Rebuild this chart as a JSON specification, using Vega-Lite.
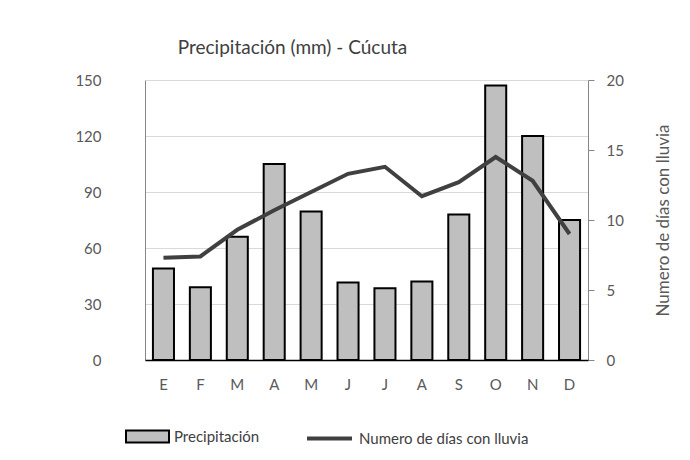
{
  "$schema": "https://vega.github.io/schema/vega-lite/v6.json",
  "width": 443,
  "height": 280,
  "autosize": "none",
  "padding": {"left": 145, "top": 80, "right": 102, "bottom": 100},
  "background": "white",
  "config": {
    "view": {"stroke": null},
    "font": "Lato",
    "axis": {"labelFont": "Lato", "titleFont": "Lato", "labelColor": "#595959", "titleColor": "#595959", "labelFontSize": 15, "titleFontSize": 17, "titleFontWeight": "normal"},
    "legend": {"labelFont": "Lato", "labelFontSize": 15, "labelColor": "#404040", "labelLimit": 0}
  },
  "title": {"text": "Precipitación (mm) - Cúcuta", "fontSize": 19, "fontWeight": "normal", "color": "#404040", "font": "Lato", "dx": -74, "offset": 15},
  "data": {
    "values": [
      {"mes": "Ene", "precip": 49, "dias": 7.3},
      {"mes": "Feb", "precip": 39, "dias": 7.4},
      {"mes": "Mar", "precip": 66, "dias": 9.3},
      {"mes": "Abr", "precip": 105, "dias": 10.7},
      {"mes": "May", "precip": 79.5, "dias": 12.0},
      {"mes": "Jun", "precip": 41.5, "dias": 13.3},
      {"mes": "Jul", "precip": 38.5, "dias": 13.8},
      {"mes": "Ago", "precip": 42, "dias": 11.7},
      {"mes": "Sep", "precip": 78, "dias": 12.7},
      {"mes": "Oct", "precip": 147, "dias": 14.5},
      {"mes": "Nov", "precip": 120, "dias": 12.8},
      {"mes": "Dic", "precip": 75, "dias": 9.0}
    ]
  },
  "layer": [
    {
      "mark": {"type": "bar", "stroke": "black", "strokeWidth": 2, "width": {"band": 0.57}},
      "encoding": {
        "x": {
          "field": "mes", "type": "nominal", "sort": null,
          "scale": {"paddingInner": 0, "paddingOuter": 0},
          "axis": {"title": null, "labelAngle": 0, "ticks": false, "domainColor": "black", "domainWidth": 1.5, "labelPadding": 17, "labelExpr": "substring(datum.label, 0, 1)", "zindex": 1}
        },
        "y": {
          "field": "precip", "type": "quantitative",
          "scale": {"domain": [0, 150]},
          "axis": {"title": null, "values": [0, 30, 60, 90, 120, 150], "ticks": false, "domainColor": "#868686", "gridColor": "#d9d9d9", "labelPadding": 44}
        },
        "fill": {
          "datum": "Precipitación",
          "scale": {"range": ["#bfbfbf"]},
          "legend": {"title": null, "orient": "none", "legendX": -20, "legendY": 334, "symbolType": "M-1,-0.28H1V0.28H-1Z", "symbolSize": 1849, "symbolStrokeColor": "black", "symbolStrokeWidth": 2, "symbolFillColor": "#bfbfbf", "labelOffset": 4}
        }
      }
    },
    {
      "mark": {"type": "line", "strokeWidth": 4},
      "encoding": {
        "x": {"field": "mes", "type": "nominal", "sort": null},
        "y": {
          "field": "dias", "type": "quantitative",
          "scale": {"domain": [0, 20]},
          "axis": {"orient": "right", "title": "Numero de días con lluvia", "values": [0, 5, 10, 15, 20], "grid": false, "tickSize": 6, "tickColor": "#868686", "domainColor": "#868686", "labelPadding": 12, "titleAngle": 270, "titlePadding": 49}
        },
        "stroke": {
          "datum": "Numero de días con lluvia",
          "scale": {"range": ["#404040"]},
          "legend": {"title": null, "orient": "none", "legendX": 160, "legendY": 334, "symbolType": "stroke", "symbolSize": 2025, "symbolStrokeWidth": 4, "labelOffset": 5}
        }
      }
    }
  ],
  "resolve": {"scale": {"y": "independent"}}
}
